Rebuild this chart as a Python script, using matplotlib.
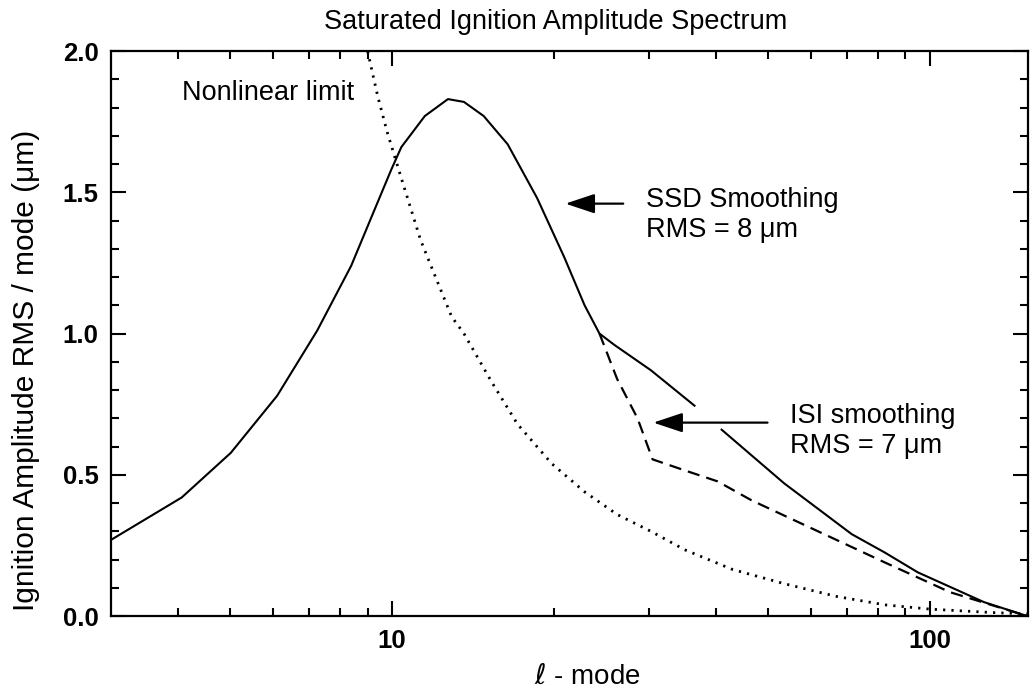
import numpy as np
import matplotlib.pyplot as plt
from matplotlib.ticker import FixedLocator, MultipleLocator, NullFormatter

# SSD smoothing curve (solid), broken where the ISI arrow crosses it
ssd_l1 = [3.0, 4.06, 5.01, 6.11, 7.25, 8.39, 9.14, 9.96, 10.4, 11.5, 12.7, 13.6, 14.8,
          16.4, 18.6, 20.9, 22.8, 24.3, 25.9, 30.3, 36.5]
ssd_a1 = [0.27, 0.42, 0.578, 0.78, 1.01, 1.24, 1.41, 1.58, 1.66, 1.77, 1.83, 1.82, 1.77,
          1.67, 1.48, 1.27, 1.10, 1.0, 0.96, 0.87, 0.745]
ssd_l2 = [41.0, 53.6, 71.6, 82.5, 95.0, 126.0, 152.0]
ssd_a2 = [0.66, 0.47, 0.29, 0.225, 0.155, 0.05, 0.0]

# ISI smoothing curve (dashed)
isi_l = [24.3, 26.2, 28.6, 30.5, 35.0, 40.3, 46.6, 62.0, 82.5, 109.0, 152.0]
isi_a = [1.0, 0.84, 0.70, 0.555, 0.516, 0.477, 0.41, 0.30, 0.19, 0.085, 0.0]

# Nonlinear limit (dotted)
nl_l = [9.0, 9.4, 9.8, 10.4, 11.3, 12.1, 12.9, 13.6, 15.3, 17.1, 19.8, 22.8, 26.2, 30.3,
        35.0, 43.0, 53.6, 67.0, 82.5, 100.0, 130.0, 152.0]
nl_a = [2.0, 1.84, 1.71, 1.55, 1.33, 1.19, 1.06, 1.0, 0.83, 0.68, 0.54, 0.44, 0.36, 0.30,
        0.235, 0.165, 0.115, 0.07, 0.04, 0.025, 0.013, 0.008]

plt.rcParams['font.family'] = ['Liberation Sans', 'DejaVu Sans']

fig = plt.figure(figsize=(10.31, 6.9), dpi=100)
ax = fig.add_axes([0.1077, 0.107, 0.889, 0.819])

ax.plot(ssd_l1, ssd_a1, color='black', lw=1.5)
ax.plot(ssd_l2, ssd_a2, color='black', lw=1.5)
ax.plot(isi_l, isi_a, color='black', lw=1.6, ls=(0, (5.5, 3.2)))
ax.plot(nl_l, nl_a, color='black', lw=2.0, ls=(0, (0.8, 2.2)))

ax.set_xscale('log')
ax.set_xlim(3, 152)
ax.set_ylim(0, 2.0)

ax.xaxis.set_major_locator(FixedLocator([10, 100]))
ax.xaxis.set_minor_locator(FixedLocator([4, 5, 6, 7, 8, 9, 20, 30, 40, 50, 60, 70, 80, 90]))
ax.xaxis.set_minor_formatter(NullFormatter())
ax.set_xticklabels(['10', '100'], fontweight='bold')
ax.yaxis.set_minor_locator(MultipleLocator(0.1))
ax.set_yticks([0, 0.5, 1.0, 1.5, 2.0])
ax.set_yticklabels(['0.0', '0.5', '1.0', '1.5', '2.0'], fontweight='bold')

ax.tick_params(which='both', direction='in', top=True, right=True, labelsize=18.5, width=1.5)
ax.tick_params(which='major', length=11, pad=9)
ax.tick_params(which='minor', length=6)
for s in ax.spines.values():
    s.set_linewidth(1.6)

ax.set_title('Saturated Ignition Amplitude Spectrum', fontsize=19.5, pad=16, x=0.485)
ax.set_xlabel(r'$\ell$ - mode', fontsize=20, labelpad=2)
ax.xaxis.set_label_coords(0.52, -0.085)
ax.set_ylabel('Ignition Amplitude RMS / mode (\u03bcm)', fontsize=21.5)
ax.yaxis.set_label_coords(-0.077, 0.435)

ax.text(4.07, 1.85, 'Nonlinear limit', fontsize=19.5, va='center')
ax.text(29.6, 1.42, 'SSD Smoothing\nRMS = 8 \u03bcm', fontsize=19.5, va='center', linespacing=1.2)
ax.text(55, 0.655, 'ISI smoothing\nRMS = 7 \u03bcm', fontsize=19.5, va='center', linespacing=1.2)

ax.annotate('', xy=(21.0, 1.46), xytext=(26.9, 1.46),
            arrowprops=dict(arrowstyle='-|>,head_length=0.9,head_width=0.3', color='black', lw=1.6,
                            mutation_scale=20, shrinkA=0, shrinkB=0))
ax.annotate('', xy=(30.6, 0.685), xytext=(49.9, 0.685),
            arrowprops=dict(arrowstyle='-|>,head_length=0.9,head_width=0.3', color='black', lw=1.6,
                            mutation_scale=20, shrinkA=0, shrinkB=0))

fig.savefig('out.png', dpi=100)
